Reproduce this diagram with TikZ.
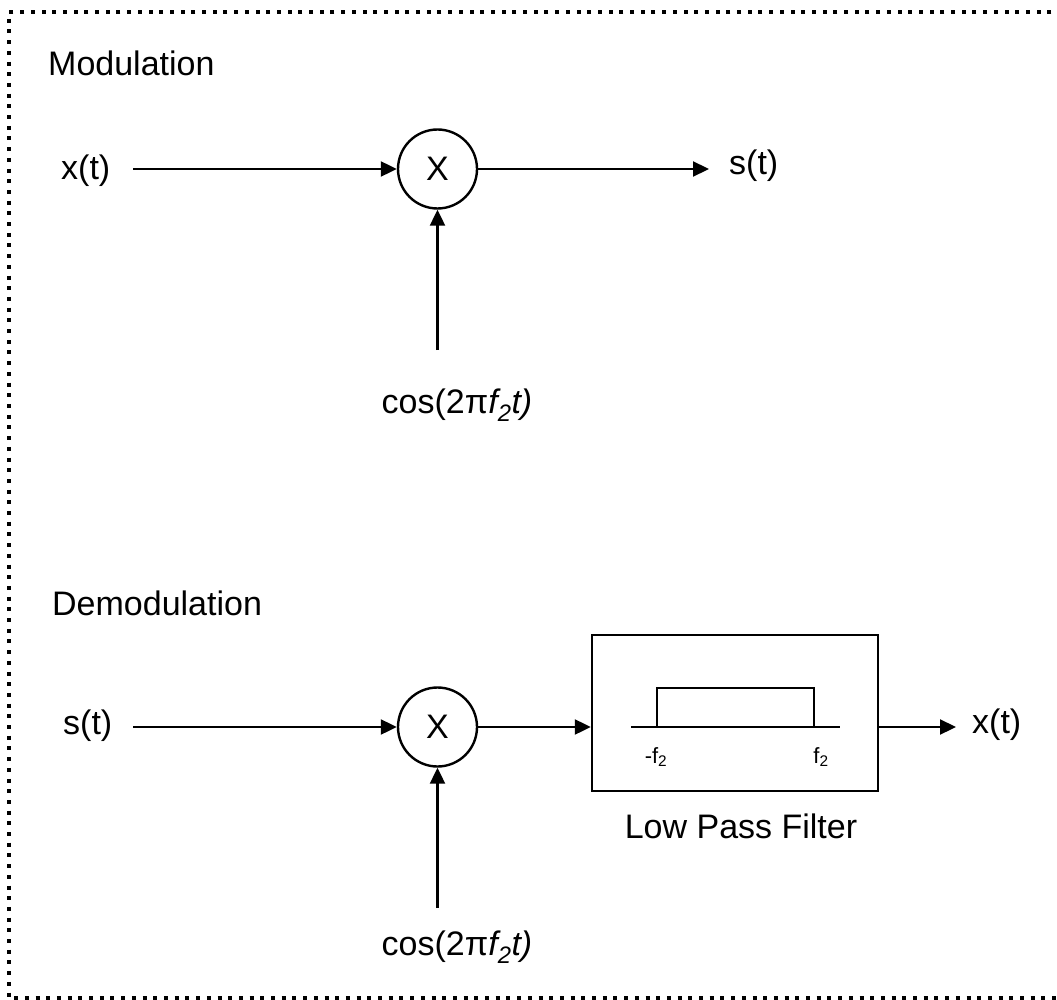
\documentclass[tikz,border=0pt]{standalone}
\usepackage{fontspec}
\setmainfont{Liberation Sans}
\usetikzlibrary{arrows.meta,positioning}

\tikzset{
  sig/.style={line width=2.2pt,-{Triangle[length=16pt,width=15pt]}},
  mixer/.style={circle,draw,line width=2.4pt,minimum size=79pt,inner sep=0pt},
  lbl/.style={inner sep=0pt},
  filterbox/.style={draw,line width=2.4pt,minimum width=286pt,minimum height=156pt,inner sep=0pt},
  small/.style={inner sep=0pt,font=\fontsize{22}{26}\selectfont}
}

\begin{document}
\begin{tikzpicture}[x=1pt,y=-1pt,font=\fontsize{34}{40}\selectfont]
    \useasboundingbox (0,0) rectangle (1057,1000);

    % Frame
    \draw[line width=4pt,dash pattern=on 4pt off 6.7pt] (1062,12.5) -- (9,12.5) -- (9,998) -- (1062,998);

    % Modulation
    \node[lbl,anchor=base west] (modTitle) at (48,76) {Modulation};
    \node[lbl,anchor=base west] (xinA) at (61,180) {x(t)};
    \node[mixer] (mixA) at (437.5,169) {X};
    \node[lbl,anchor=base west] (soutA) at (729,175) {s(t)};
    \node[lbl] (cosA) at (457,405) {cos(2π\textit{f\textsubscript{2}t)}};
    \coordinate (loA) at (437.5,350);

    \draw[sig,shorten <=23pt] (xinA.east |- mixA.west) -- (mixA.west);
    \draw[sig,shorten >=20pt] (mixA.east) -- (soutA.west |- mixA.east);
    \draw[sig] (loA) -- (mixA.south);

    % Demodulation
    \node[lbl,anchor=base west] (demodTitle) at (52,615) {Demodulation};
    \node[lbl,anchor=base west] (sinB) at (63,734) {s(t)};
    \node[mixer] (mixB) at (437.5,727) {X};
    \node[filterbox] (lpf) at (735,713) {};
    \node[lbl,below=21pt of lpf,xshift=6pt] (lpfText) {Low Pass Filter};
    \node[lbl,anchor=base west] (xoutB) at (972,733) {x(t)};
    \node[lbl] (cosB) at (457,947) {cos(2π\textit{f\textsubscript{2}t)}};
    \coordinate (loB) at (437.5,908);

    \draw[sig,shorten <=21pt] (sinB.east |- mixB.west) -- (mixB.west);
    \draw[sig] (mixB.east) -- (lpf.west |- mixB.east);
    \draw[sig,shorten >=16pt] (lpf.east |- mixB.east) -- (xoutB.west |- mixB.east);
    \draw[sig] (loB) -- (mixB.south);

    % Filter response
    \draw[line width=2.2pt] (631,727) -- (840,727);
    \draw[line width=2.2pt] (657,727) -- (657,688) -- (814,688) -- (814,727);
    \node[small] (fLow) at (656,757) {-f\textsubscript{2}};
    \node[small] (fHigh) at (821,757) {f\textsubscript{2}};
\end{tikzpicture}
\end{document}
